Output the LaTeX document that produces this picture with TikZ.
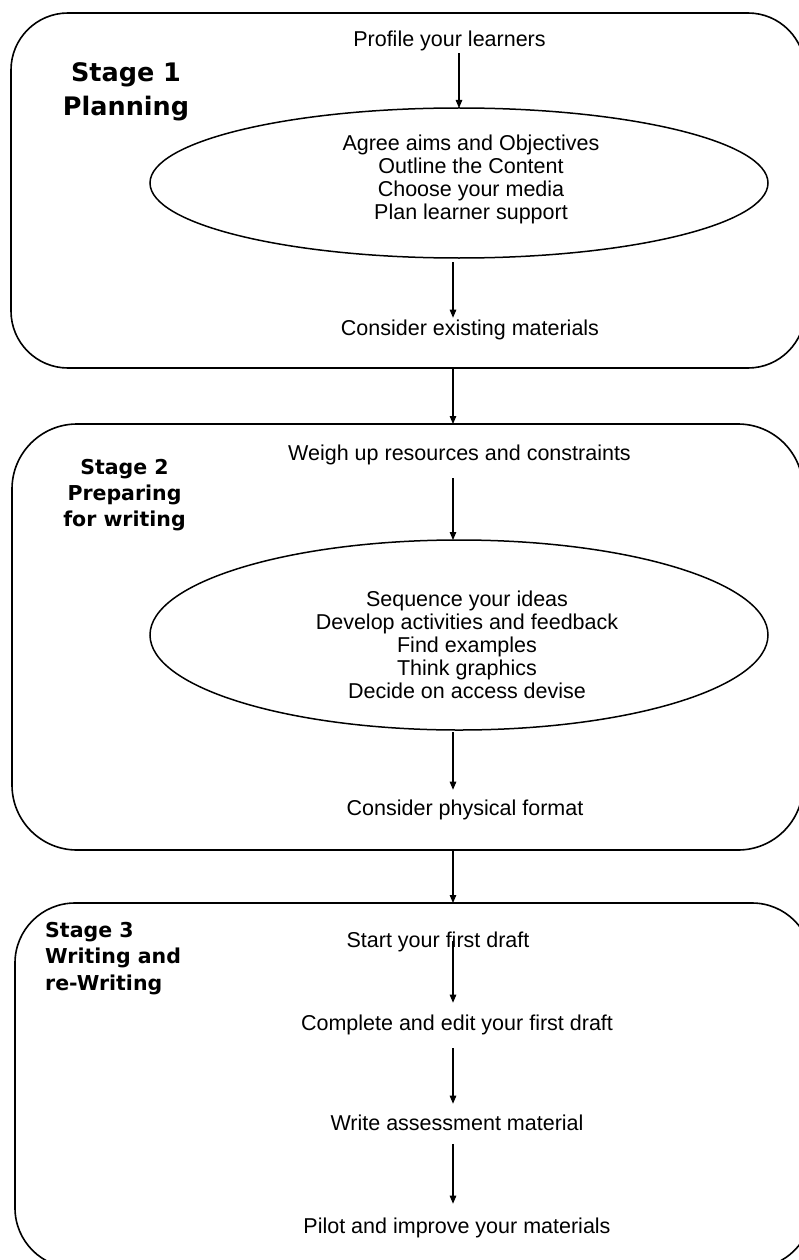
\documentclass[tikz,border=0pt]{standalone}
\usepackage{fontspec}
\setmainfont{Liberation Sans}
\newfontfamily\stagefont{DejaVu Sans Bold}
\usetikzlibrary{shapes.geometric,arrows.meta,calc}

\tikzset{
  stagebox/.style={draw, line width=1.6pt, rectangle, inner sep=0pt, outer sep=0pt},
  bubble/.style={draw, line width=1.5pt, ellipse, inner sep=0pt, outer sep=0pt, minimum width=618pt},
  task/.style={anchor=base, inner sep=1.5pt, font=\fontsize{21.5}{23}\selectfont},
  tasklist/.style={align=center, inner sep=0pt, font=\fontsize{21.5}{23}\selectfont},
  flow/.style={-{Triangle[length=8pt,width=6.5pt]}, line width=1.1pt}
}

\begin{document}
\begin{tikzpicture}[x=1pt, y=-1pt]
\useasboundingbox (0,0) rectangle (798,1260);

% Stage boxes
\node[stagebox, minimum width=794pt, minimum height=355pt, rounded corners=57pt] (box1) at (408,190.5) {};
\node[stagebox, minimum width=791pt, minimum height=426pt, rounded corners=65pt] (box2) at (407.5,637) {};
\node[stagebox, minimum width=797pt, minimum height=365pt, rounded corners=60pt] (box3) at (413.5,1085.5) {};
\coordinate (axis) at (453,0);

% Stage 1
\node[align=center, inner sep=0pt, font=\stagefont\fontsize{25.5}{34}\selectfont] (plan) at (126,91.5) {Stage 1\\Planning};
\node[task] (profile) at (449.5,47) {Profile your learners};
\node[bubble, minimum height=150pt] (ell1) at (459,183) {};
\node[tasklist] (aims) at (471,179) {Agree aims and Objectives\\Outline the Content\\Choose your media\\Plan learner support};
\node[task] (exist) at (470,335) {Consider existing materials};

\draw[flow] (profile.south -| ell1.north) -- (ell1.north);
\draw[flow, shorten <=4pt] (axis |- ell1.south) -- (axis |- exist.north);
\draw[flow] (axis |- box1.south) -- (axis |- box2.north);

% Stage 2
\node[align=center, inner sep=0pt, font=\stagefont\fontsize{20.5}{26}\selectfont] (prep) at (124.5,495) {Stage 2\\Preparing\\for writing};
\node[task] (weigh) at (459.5,460) {Weigh up resources and constraints};
\node[bubble, minimum height=190pt] (ell2) at (459,635) {};
\node[tasklist] (ideas) at (467,645) {Sequence your ideas\\Develop activities and feedback\\Find examples\\Think graphics\\Decide on access devise};
\node[task] (phys) at (465,815) {Consider physical format};

\draw[flow, shorten <=12pt] (axis |- weigh.south) -- (axis |- ell2.north);
\draw[flow, shorten <=2pt, shorten >=8pt] (axis |- ell2.south) -- (axis |- phys.north);
\draw[flow] (axis |- box2.south) -- (axis |- box3.north);

% Stage 3
\node[align=left, anchor=west, inner sep=0pt, font=\stagefont\fontsize{20.5}{26.5}\selectfont] (write) at (45,958.5) {Stage 3\\Writing and\\re-Writing};
\node[task] (draft) at (438,947) {Start your first draft};
\node[task] (complete) at (457,1030) {Complete and edit your first draft};
\node[task] (assess) at (457,1130) {Write assessment material};
\node[task] (pilot) at (457,1233) {Pilot and improve your materials};

\draw[flow, shorten >=10pt] (axis |- draft.center) -- (axis |- complete.north);
\draw[flow, shorten <=12pt, shorten >=9pt] (axis |- complete.south) -- (axis |- assess.north);
\draw[flow, shorten <=12pt, shorten >=12pt] (axis |- assess.south) -- (axis |- pilot.north);

\end{tikzpicture}
\end{document}
